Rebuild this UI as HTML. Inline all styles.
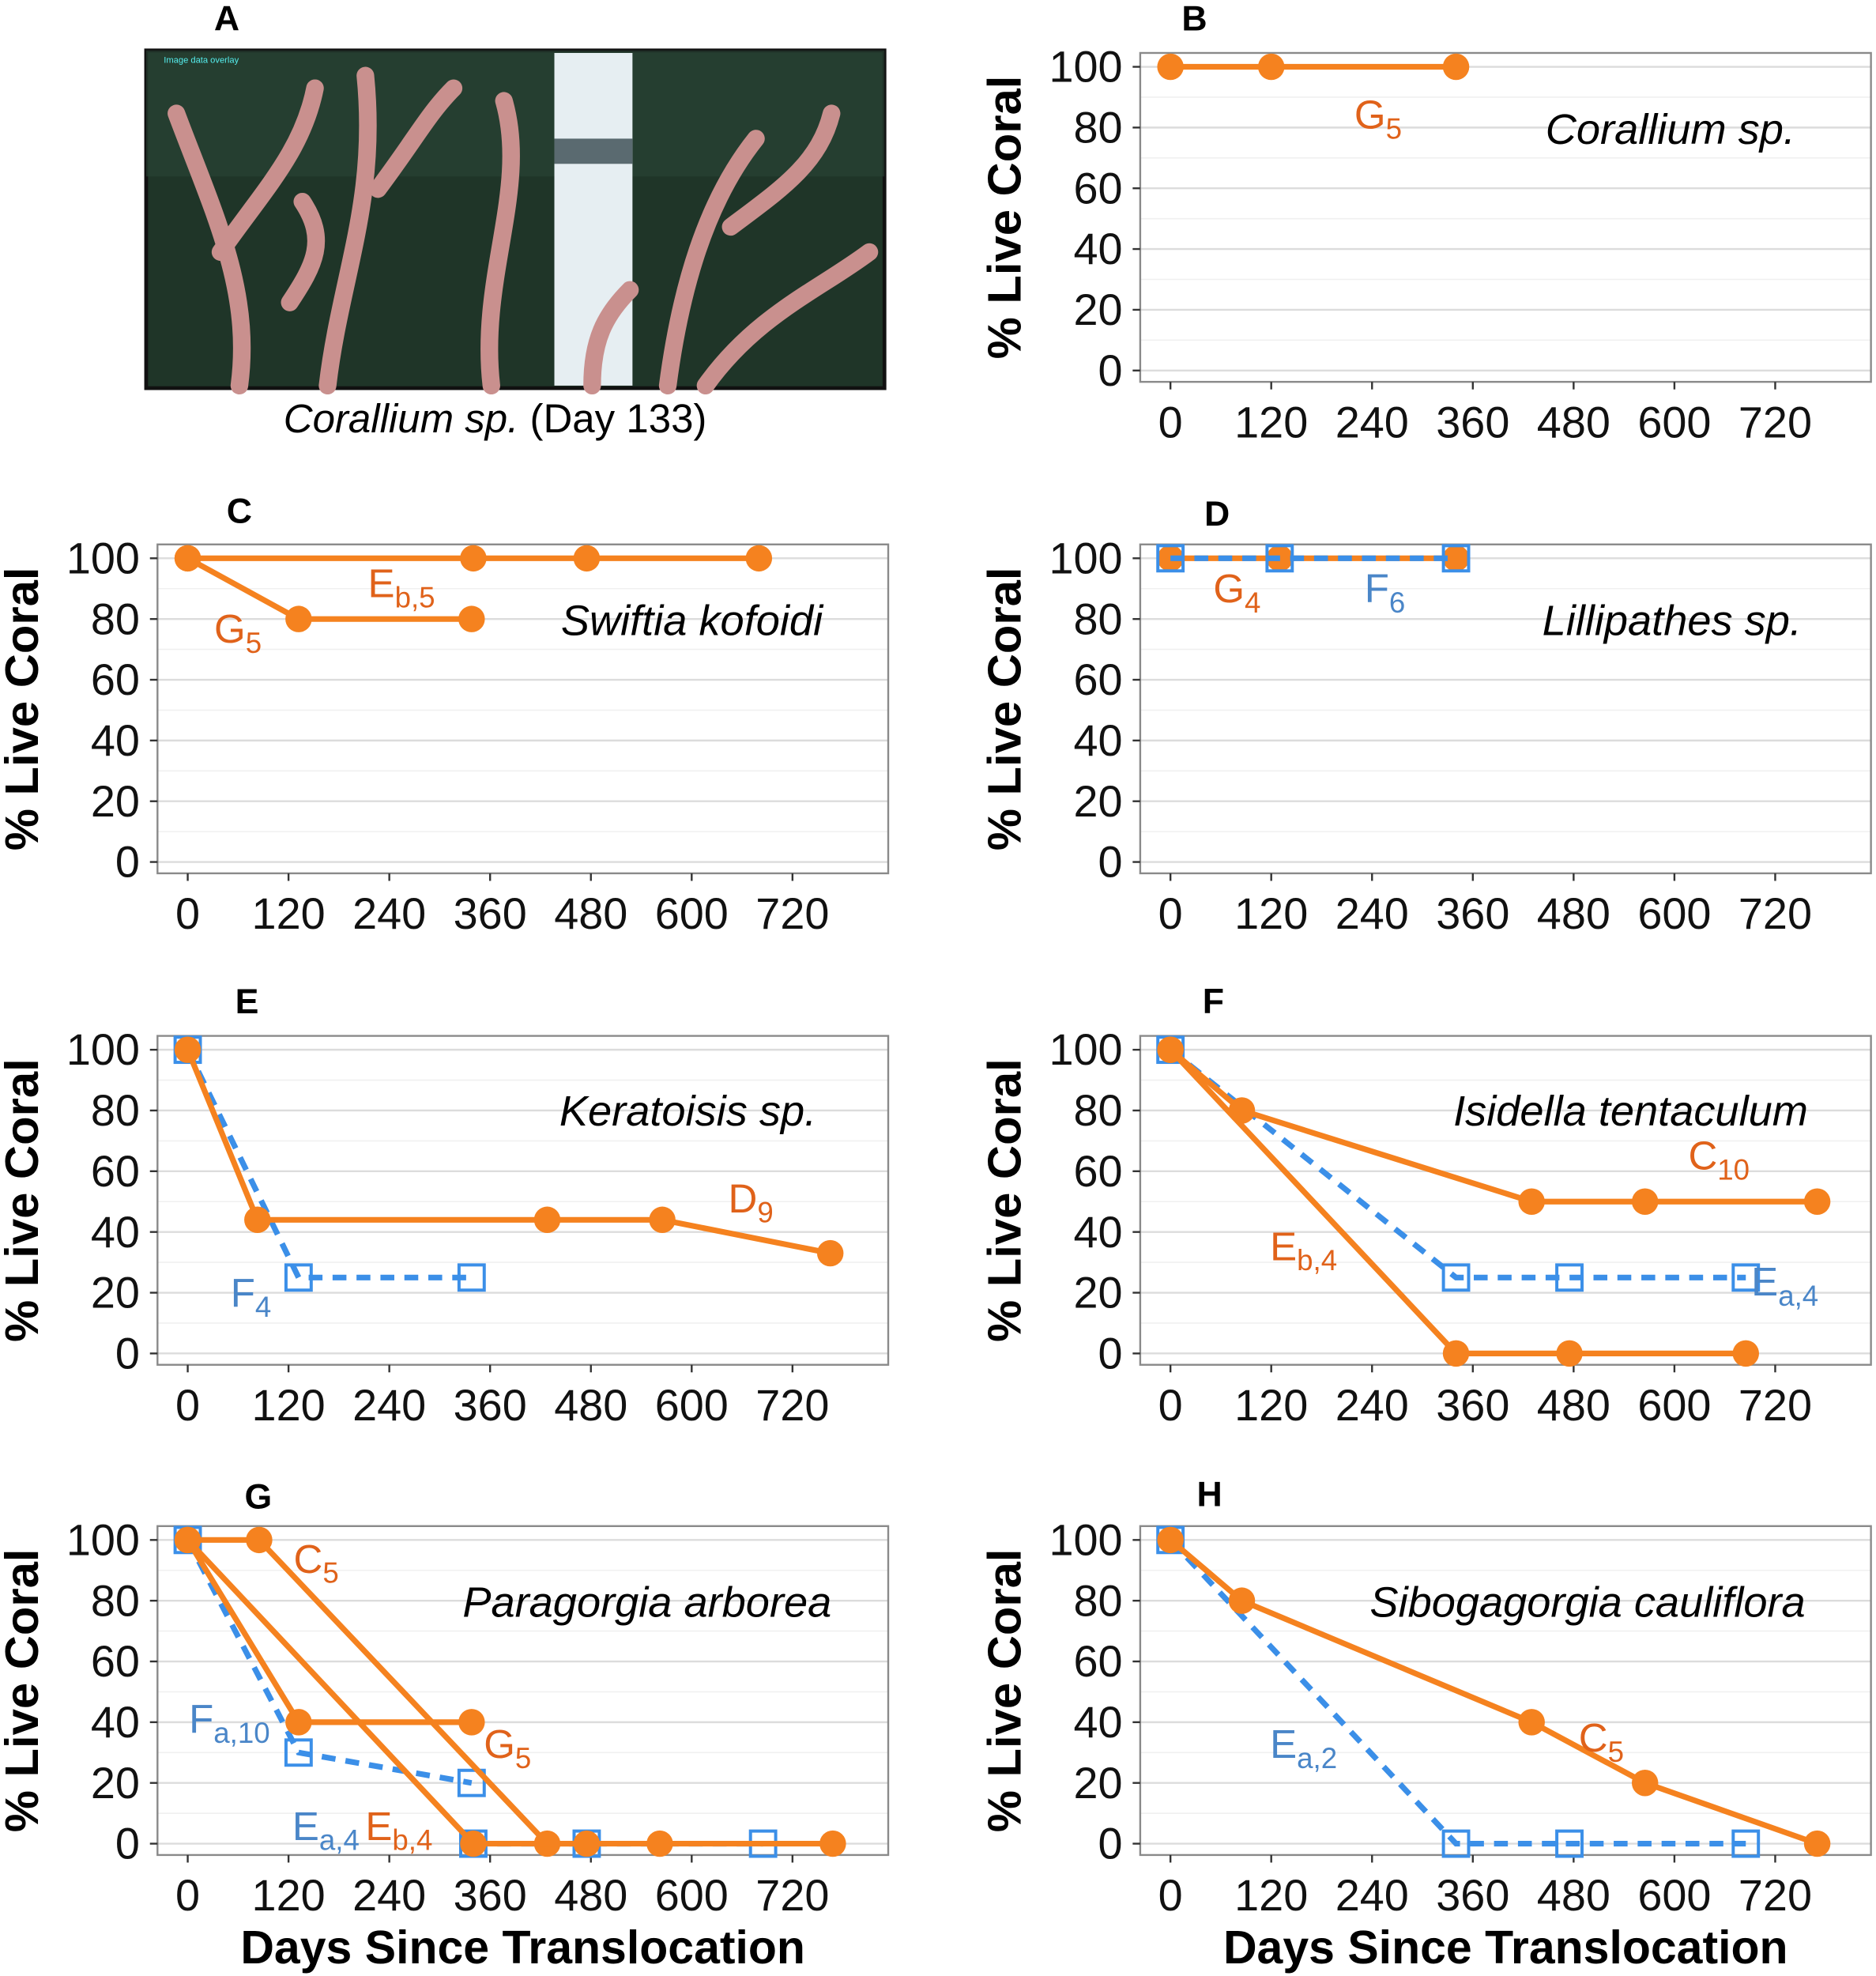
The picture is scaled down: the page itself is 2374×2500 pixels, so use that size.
<!DOCTYPE html>
<html><head><meta charset="utf-8"><style>
html,body{margin:0;padding:0;background:#fff}
svg{display:block}
text{font-family:"Liberation Sans",sans-serif}
</style></head><body>
<svg id="fig" xmlns="http://www.w3.org/2000/svg" width="2374" height="2500" viewBox="0 0 1489 1568">
<g>
<rect x="116" y="40" width="586" height="268" fill="#1f3528" stroke="#111" stroke-width="3"/>
<rect x="116" y="40" width="586" height="100" fill="#2a4536" opacity="0.6"/>
<rect x="440" y="42" width="62" height="264" fill="#e6eef2"/>
<rect x="440" y="110" width="62" height="20" fill="#5a6a70"/>
<g stroke="#c9908e" stroke-width="14" stroke-linecap="round" fill="none">
<path d="M190 306 C200 230 170 170 140 90"/><path d="M175 200 C210 150 240 120 250 70"/>
<path d="M260 306 C270 220 300 160 290 60"/><path d="M300 150 C330 110 340 90 360 70"/>
<path d="M390 306 C380 220 420 150 400 80"/><path d="M530 306 C540 230 560 160 600 110"/>
<path d="M580 180 C620 150 650 130 660 90"/><path d="M560 306 C600 250 650 230 690 200"/>
<path d="M230 240 C250 210 260 190 240 160"/><path d="M470 306 C470 270 480 250 500 230"/>
</g>
<text x="130" y="50" font-size="7" fill="#5ee">Image data overlay</text>
</g>
<text x="180" y="24" font-size="28" font-weight="bold" text-anchor="middle">A</text>
<text x="393" y="343" font-size="32" text-anchor="middle"><tspan font-style="italic">Corallium sp.</tspan> (Day 133)</text>
</svg>
<script>
const ticksX=[0,120,240,360,480,600,720];
const ticksY=[0,20,40,60,80,100];
const panels=[
 {id:'B',col:1,row:0,lx:948,ly:12,sp:'Corallium sp.',spx:1425,spy:103},
 {id:'C',col:0,row:1,lx:190,ly:403,sp:'Swiftia kofoidi',spx:653,spy:493},
 {id:'D',col:1,row:1,lx:966,ly:405,sp:'Lillipathes sp.',spx:1430,spy:493},
 {id:'E',col:0,row:2,lx:196,ly:792,sp:'Keratoisis sp.',spx:648,spy:882},
 {id:'F',col:1,row:2,lx:963,ly:792,sp:'Isidella tentaculum',spx:1435,spy:882},
 {id:'G',col:0,row:3,lx:205,ly:1185,sp:'Paragorgia arborea',spx:660,spy:1272},
 {id:'H',col:1,row:3,lx:960,ly:1183,sp:'Sibogagorgia cauliflora',spx:1433,spy:1272}
];
const sB_G5_days=[0,120,340], sB_G5_vals=[100,100,100];
const sC_Eb5_days=[0,340,475,680], sC_Eb5_vals=[100,100,100,100];
const sC_G5_days=[0,132,338], sC_G5_vals=[100,80,80];
const sD_G4_days=[0,130,340], sD_G4_vals=[100,100,100];
const sD_F6_days=[0,130,340], sD_F6_vals=[100,100,100];
const sE_D9_days=[0,83,428,565,765], sE_D9_vals=[100,44,44,44,33];
const sE_F4_days=[0,132,338], sE_F4_vals=[100,25,25];
const sF_C10_days=[0,85,430,565,770], sF_C10_vals=[100,80,50,50,50];
const sF_Eb4_days=[0,340,475,685], sF_Eb4_vals=[100,0,0,0];
const sF_Ea4_days=[0,340,475,685], sF_Ea4_vals=[100,25,25,25];
const sG_Fa10_days=[0,132,338], sG_Fa10_vals=[100,30,20];
const sG_Ea4_days=[340,475,685], sG_Ea4_vals=[0,0,0];
const sG_C5_days=[0,85,428,562,768], sG_C5_vals=[100,100,0,0,0];
const sG_G5_days=[0,132,338], sG_G5_vals=[100,40,40];
const sG_Eb4_days=[0,340,475], sG_Eb4_vals=[100,0,0];
const sH_Ea2_days=[0,340,475,685], sH_Ea2_vals=[100,0,0,0];
const sH_C5_days=[0,85,430,565,770], sH_C5_vals=[100,80,40,20,0];
const series=[
 ['B','o',sB_G5_days,sB_G5_vals],
 ['C','o',sC_Eb5_days,sC_Eb5_vals],['C','o',sC_G5_days,sC_G5_vals],
 ['D','o',sD_G4_days,sD_G4_vals],['D','b',sD_F6_days,sD_F6_vals],
 ['E','b',sE_F4_days,sE_F4_vals],['E','o',sE_D9_days,sE_D9_vals],
 ['F','b',sF_Ea4_days,sF_Ea4_vals],['F','o',sF_C10_days,sF_C10_vals],['F','o',sF_Eb4_days,sF_Eb4_vals],
 ['G','b',sG_Fa10_days,sG_Fa10_vals],['G','b',sG_Ea4_days,sG_Ea4_vals],['G','o',sG_C5_days,sG_C5_vals],['G','o',sG_G5_days,sG_G5_vals],['G','o',sG_Eb4_days,sG_Eb4_vals],
 ['H','b',sH_Ea2_days,sH_Ea2_vals],['H','o',sH_C5_days,sH_C5_vals]
];
const labels=[
 ['B','o','G','5',1075,102],['C','o','E','b,5',292,474],['C','o','G','5',170,510],
 ['D','o','G','4',963,478],['D','b','F','6',1083,478],
 ['E','o','D','9',578,962],['E','b','F','4',183,1037],
 ['F','o','C','10',1340,928],['F','o','E','b,4',1008,1000],['F','b','E','a,4',1390,1028],
 ['G','o','C','5',233,1248],['G','b','F','a,10',150,1375],['G','o','G','5',384,1395],['G','b','E','a,4',232,1460],['G','o','E','b,4',290,1460],
 ['H','b','E','a,2',1008,1395],['H','o','C','5',1253,1390]
];
const NS='http://www.w3.org/2000/svg';
const svg=document.getElementById('fig');
function mk(tag,attrs,parent){const e=document.createElementNS(NS,tag);for(const k in attrs)e.setAttribute(k,attrs[k]);(parent||svg).appendChild(e);return e;}
const OR='#f5821f',BL='#3b8fe8',ORT='#e0621a',BLT='#4a86c8';
const geo={};
panels.forEach(p=>{
 const left=p.col?905:125, top=[42,432,822,1211][p.row], w=580, h=261;
 const x0=left+24, y100=top+11, y0=top+252;
 const sx=d=>x0+d*(480/720), sy=v=>y0-(y0-y100)*v/100;
 geo[p.id]={sx,sy};
 const g=mk('g',{});
 
 
 for(let v=0;v<=100;v+=10){mk('line',{x1:left,x2:left+w,y1:sy(v),y2:sy(v),stroke:v%20?'#f0f0f0':'#dcdcdc','stroke-width':v%20?1:1.5},g);}
 const fr=mk('rect',{x:left,y:top,width:w,height:h,fill:'none',stroke:'#8a8a8a','stroke-width':1.5},g);
 
 ticksY.forEach(v=>{mk('line',{x1:left-6,x2:left,y1:sy(v),y2:sy(v),stroke:'#333','stroke-width':1.5},g);
  const t=mk('text',{x:left-14,y:sy(v)+12,'font-size':35,'text-anchor':'end',fill:'#111'},g);t.textContent=v;
  });
 ticksX.forEach(d=>{mk('line',{x1:sx(d),x2:sx(d),y1:top+h,y2:top+h+6,stroke:'#333','stroke-width':1.5},g);
  const t=mk('text',{x:sx(d),y:top+h+44,'font-size':35,'text-anchor':'middle',fill:'#111'},g);t.textContent=d;
  });
 const yt=mk('text',{x:0,y:0,'font-size':37.5,'font-weight':'bold','text-anchor':'middle',transform:`translate(${left-95},${top+h/2}) rotate(-90)`},g);
 yt.textContent='% Live Coral';
 const pl=mk('text',{x:p.lx,y:p.ly+12,'font-size':28,'font-weight':'bold','text-anchor':'middle'},g);
 pl.textContent=p.id;
 const st=mk('text',{x:p.spx,y:p.spy+11,'font-size':34,'font-style':'italic','text-anchor':'end'},g);
 st.textContent=p.sp;
 if(p.row===3){const xt=mk('text',{x:left+290,y:1558,'font-size':37,'font-weight':'bold','text-anchor':'middle'},g);
  xt.textContent='Days Since Translocation';}
});
series.forEach(s=>{
 const [pid,type,days,vals]=s;const {sx,sy}=geo[pid];
 const pts=days.map((d,i)=>sx(d)+','+sy(vals[i])).join(' ');
 const ln=mk('polyline',{points:pts,fill:'none',stroke:type==='o'?OR:BL,'stroke-width':4.5,'stroke-dasharray':type==='o'?'':'11,8'});
 
 
 days.forEach((d,i)=>{
  let m;
  if(type==='o'){m=mk('circle',{cx:sx(d),cy:sy(vals[i]),r:10.5,fill:OR});}
  else{m=mk('rect',{x:sx(d)-10,y:sy(vals[i])-10,width:20,height:20,fill:'none',stroke:BL,'stroke-width':2.5});}
  
  
 });
});
labels.forEach(l=>{
 const t=mk('text',{x:l[4],y:l[5],'font-size':32,fill:l[1]==='o'?ORT:BLT});
 
 
 t.appendChild(document.createTextNode(l[2]));
 const sub=mk('tspan',{'font-size':23,dy:8},t);sub.textContent=l[3];
});
</script>
</body></html>
